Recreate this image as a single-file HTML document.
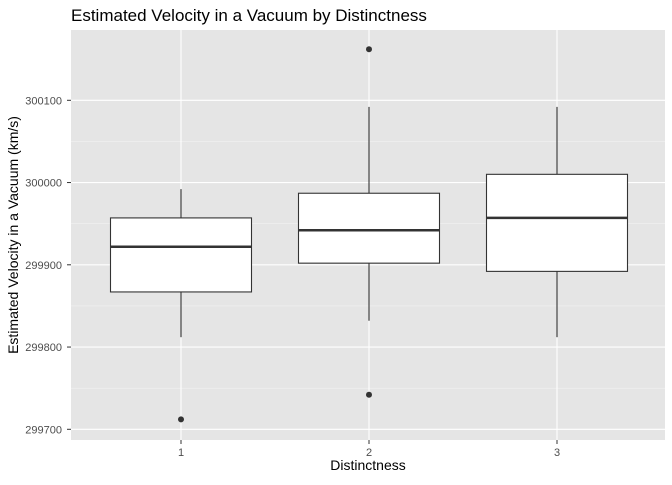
<!DOCTYPE html>
<html><head><meta charset="utf-8"><style>
body{margin:0;background:#fff;font-family:"Liberation Sans",Arial,sans-serif}
</style></head><body>
<svg id="chart" width="672" height="480" xmlns="http://www.w3.org/2000/svg">
<text x="71" y="21" font-size="17" fill="#000">Estimated Velocity in a Vacuum by Distinctness</text>
<rect x="71" y="30" width="594" height="410" fill="#e5e5e5"/>
<g id="grid"></g><g id="boxes"></g><g id="axes"></g>
<text x="368" y="470" font-size="14" text-anchor="middle">Distinctness</text>
<text transform="translate(18,235) rotate(-90)" font-size="14" text-anchor="middle">Estimated Velocity in a Vacuum (km/s)</text>
</svg>
<script>
const categories=["1","2","3"];
const whiskerLow=[299812,299832,299812];
const q1=[299867,299902,299892];
const median=[299922,299942,299957];
const q3=[299957,299987,300010];
const whiskerHigh=[299992,300092,300092];
const outliers=[[299712],[300162,299742],[]];
const yTicks=[299700,299800,299900,300000,300100];
const NS="http://www.w3.org/2000/svg";
const y=v=>429.3-(v-299700)*(329/400);
const x=i=>181+i*188;
const bw=141;
function mk(t,a,p){const e=document.createElementNS(NS,t);for(const k in a)e.setAttribute(k,a[k]);p.appendChild(e);return e;}
const grid=document.getElementById('grid'),boxes=document.getElementById('boxes'),axes=document.getElementById('axes');
for(let k=0;k<yTicks.length;k++){
  const v=yTicks[k];
  const g=mk('line',{x1:71,x2:665,y1:y(v),y2:y(v),stroke:'#fff','stroke-width':1.1},grid);
  
  
  if(k<yTicks.length-1){const m=mk('line',{x1:71,x2:665,y1:y(v+50),y2:y(v+50),stroke:'#f2f2f2','stroke-width':0.6},grid);
  
  }
  const t=mk('text',{x:62,y:y(v)+4,'font-size':11,fill:'#4d4d4d','text-anchor':'end'},axes);t.textContent=v;
  
  
  mk('line',{x1:67,x2:71,y1:y(v),y2:y(v),stroke:'#333'},axes);
}
categories.forEach((c,i)=>{
  const gl=mk('line',{x1:x(i),x2:x(i),y1:30,y2:440,stroke:'#fff','stroke-width':1.1},grid);
  
  
  const t=mk('text',{x:x(i),y:456,'font-size':11,fill:'#4d4d4d','text-anchor':'middle'},axes);t.textContent=c;
  
  
  mk('line',{x1:x(i),x2:x(i),y1:440,y2:444,stroke:'#333'},axes);
  const g=mk('g',{},boxes);
  
  
  mk('line',{x1:x(i),x2:x(i),y1:y(whiskerHigh[i]),y2:y(q3[i]),stroke:'#333','stroke-width':1.1},g);
  mk('line',{x1:x(i),x2:x(i),y1:y(q1[i]),y2:y(whiskerLow[i]),stroke:'#333','stroke-width':1.1},g);
  mk('rect',{x:x(i)-bw/2,y:y(q3[i]),width:bw,height:y(q1[i])-y(q3[i]),fill:'#fff',stroke:'#333','stroke-width':1.1},g);
  mk('line',{x1:x(i)-bw/2,x2:x(i)+bw/2,y1:y(median[i]),y2:y(median[i]),stroke:'#333','stroke-width':2.5},g);
  outliers[i].forEach(v=>{const o=mk('circle',{cx:x(i),cy:y(v),r:3,fill:'#333'},g);
    
    });
});
</script>
</body></html>
